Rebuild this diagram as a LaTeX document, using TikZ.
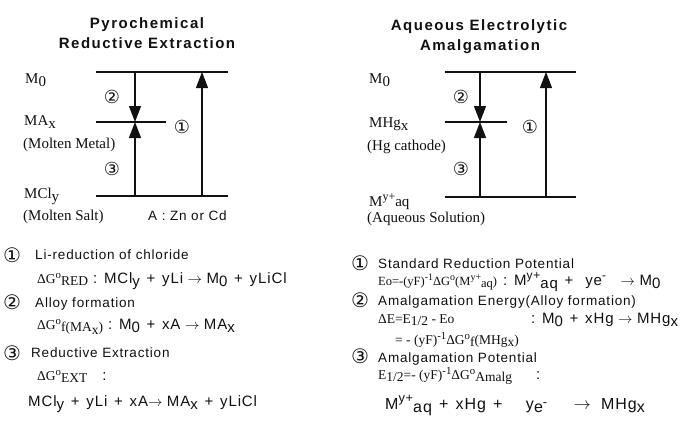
\documentclass[tikz,border=0pt]{standalone}
\usepackage{fontspec}
\setmainfont{Liberation Serif}
\setsansfont{Liberation Sans}[LetterSpace=6]
\newfontfamily\ttlfont{Liberation Sans}[LetterSpace=10]
\newfontfamily\circfont{DejaVu Sans}
\usetikzlibrary{arrows.meta,positioning}
\definecolor{ink}{HTML}{111111}
\newcommand\lo[1]{\raisebox{-0.45ex}{#1}}
\newcommand\hi[1]{\raisebox{0.75ex}{\scalebox{0.8}{#1}}}
\newcommand\rmq{\rmfamily\fontsize{13.5}{16}\selectfont}
\newcommand\pl{\hspace{0.45em}+\hspace{0.45em}}
\newcommand\ar{\hspace{0.3em}$\rightarrow$\hspace{0.3em}}
\tikzset{
  level/.style={draw=ink,line width=1.2pt},
  levarr/.style={-{Triangle[length=16pt,width=12pt]},line width=1.2pt,
                 draw=ink},
  ttl/.style={anchor=base,inner sep=0pt,text=ink,
              font=\ttlfont\bfseries\fontsize{15}{17}\selectfont},
  levlab/.style={anchor=base west,inner sep=0pt,text=ink,
                 font=\rmfamily\fontsize{15}{17}\selectfont},
  head/.style={anchor=base west,inner sep=0pt,text=ink,
               font=\sffamily\fontsize{13.5}{16}\selectfont},
  eqn/.style={head,font=\sffamily\fontsize{15}{17}\selectfont},
  rmeq/.style={head,font=\rmq},
  cnum/.style={inner sep=0pt,text=ink,
               font=\circfont\fontsize{18}{18}\selectfont},
  bignum/.style={cnum,font=\circfont\fontsize{20}{20}\selectfont}
}
\begin{document}
\begin{tikzpicture}[x=1pt,y=-1pt]
  \useasboundingbox[fill=white] (0,0) rectangle (697,434);
  % pyrochemical levels
  \node[ttl] (ttlLa) at (147,28) {Pyrochemical};
  \node[ttl] (ttlLb) at (147,48) {Reductive Extraction};
  \coordinate (LtopA) at (96,72);   \coordinate (LtopB) at (228,72);
  \coordinate (LmidA) at (96,122);  \coordinate (LmidB) at (166,122);
  \coordinate (LbotA) at (96,196);  \coordinate (LbotB) at (228,196);
  \draw[level] (LtopA) -- (LtopB);
  \draw[level] (LmidA) -- (LmidB);
  \draw[level] (LbotA) -- (LbotB);
  \coordinate (Ltwo) at (135,72);   \coordinate (Lmeet) at (135,122);
  \coordinate (Lthree) at (135,196);
  \coordinate (Lonea) at (202,196); \coordinate (Loneb) at (202,72);
  \draw[levarr] (Ltwo) -- (Lmeet);
  \draw[levarr] (Lthree) -- (Lmeet);
  \draw[levarr] (Lonea) -- (Loneb);
  \node[cnum] (Lc2) at (112,97) {②};
  \node[cnum] (Lc3) at (112,169) {③};
  \node[cnum] (Lc1) at (182,127) {①};
  \node[levlab] (Lm0) at (25,83) {M\lo{0}};
  \node[levlab] (Lmax) at (24,125) {MA\lo{x}};
  \node[levlab] (Lmetal) at (23,148) {(Molten Metal)};
  \node[levlab] (Lmcl) at (24,198) {MCl\lo{y}};
  \node[levlab] (Lsalt) at (23,220) {(Molten Salt)};
  \node[head] (Lzn) at (148,220) {A : Zn or Cd};
  % aqueous levels
  \node[ttl] (ttlRa) at (479,30) {Aqueous Electrolytic};
  \node[ttl] (ttlRb) at (480,50) {Amalgamation};
  \coordinate (RtopA) at (445,72);  \coordinate (RtopB) at (576,72);
  \coordinate (RmidA) at (445,122); \coordinate (RmidB) at (507,122);
  \coordinate (RbotA) at (445,197); \coordinate (RbotB) at (576,197);
  \draw[level] (RtopA) -- (RtopB);
  \draw[level] (RmidA) -- (RmidB);
  \draw[level] (RbotA) -- (RbotB);
  \coordinate (Rtwo) at (480,72);   \coordinate (Rmeet) at (480,122);
  \coordinate (Rthree) at (480,197);
  \coordinate (Ronea) at (546,197); \coordinate (Roneb) at (546,72);
  \draw[levarr] (Rtwo) -- (Rmeet);
  \draw[levarr] (Rthree) -- (Rmeet);
  \draw[levarr] (Ronea) -- (Roneb);
  \node[cnum] (Rc2) at (461,97) {②};
  \node[cnum] (Rc3) at (461,169) {③};
  \node[cnum] (Rc1) at (530,127) {①};
  \node[levlab] (Rm0) at (369,83) {M\lo{0}};
  \node[levlab] (Rmhg) at (369,127) {MHg\lo{x}};
  \node[levlab] (Rcath) at (367,150) {(Hg cathode)};
  \node[levlab] (Rmaq) at (369,206) {M\hi{y+}aq};
  \node[levlab] (Rsol) at (367,222) {(Aqueous Solution)};
  % pyrochemical equations
  \node[bignum] (Le1) at (12,255) {①};
  \node[head] (Lt1) at (35,259) {Li-reduction of chloride};
  \node[eqn] (Lq1) at (37,283) {{\rmq ΔG\hi{o}\lo{RED}} :
    MCl\lo{y}\pl yLi\ar M\lo{0}\pl yLiCl};
  \node[bignum] (Le2) at (12,302) {②};
  \node[head] (Lt2) at (35,307) {Alloy formation};
  \node[eqn] (Lq2) at (37,329) {{\rmq ΔG\hi{o}\lo{f(MA\lo{x})}} :
    M\lo{0}\pl xA\ar MA\lo{x}};
  \node[bignum] (Le3) at (12,353) {③};
  \node[head] (Lt3) at (31,357) {Reductive Extraction};
  \node[eqn] (Lq3) at (37,380) {{\rmq ΔG\hi{o}\lo{EXT}} \ \ :};
  \node[eqn] (Lq3b) at (28,406) {MCl\lo{y}\pl yLi\pl xA$\rightarrow$\hspace{0.3em}MA\lo{x}\pl yLiCl};
  % aqueous equations
  \node[bignum] (Re1) at (360,263) {①};
  \node[head] (Rt1) at (378,268) {Standard Reduction Potential};
  \node[rmeq,font=\rmfamily\fontsize{12.5}{15}\selectfont] (Rq1) at (378,285)
    {Eo=-(yF)\hi{-1}ΔG\hi{o}(M\hi{y+}\lo{aq})};
  \node[eqn] (Rq1b) at (503,285) {: M\hi{y+}\lo{aq}\pl\ ye\hi{-}\ \ \ar M\lo{0}};
  \node[bignum] (Re2) at (360,300) {②};
  \node[head] (Rt2) at (378,305) {Amalgamation Energy(Alloy formation)};
  \node[rmeq] (Rq2) at (378,323) {ΔE=E\lo{1/2} - Eo};
  \node[eqn] (Rq2b) at (531,323) {: M\lo{0}\pl xHg\ar MHg\lo{x}};
  \node[rmeq] (Rq2c) at (395,344) {= - (yF)\hi{-1}ΔG\hi{o}\lo{f}(MHg\lo{x})};
  \node[bignum] (Re3) at (360,356) {③};
  \node[head] (Rt3) at (378,362) {Amalgamation Potential};
  \node[rmeq] (Rq3) at (378,379) {E\lo{1/2}=- (yF)\hi{-1}ΔG\hi{o}\lo{Amalg}};
  \node[eqn] (Rq3c) at (536,379) {:};
  \node[eqn,font=\sffamily\fontsize{16}{18}\selectfont] (Rq3b) at (385,409)
    {M\hi{y+}\lo{aq}\pl xHg\pl\ \ \ y\lo{e\hi{-}}\ \ \ \ \ar\ MHg\lo{x}};
\end{tikzpicture}
\end{document}
